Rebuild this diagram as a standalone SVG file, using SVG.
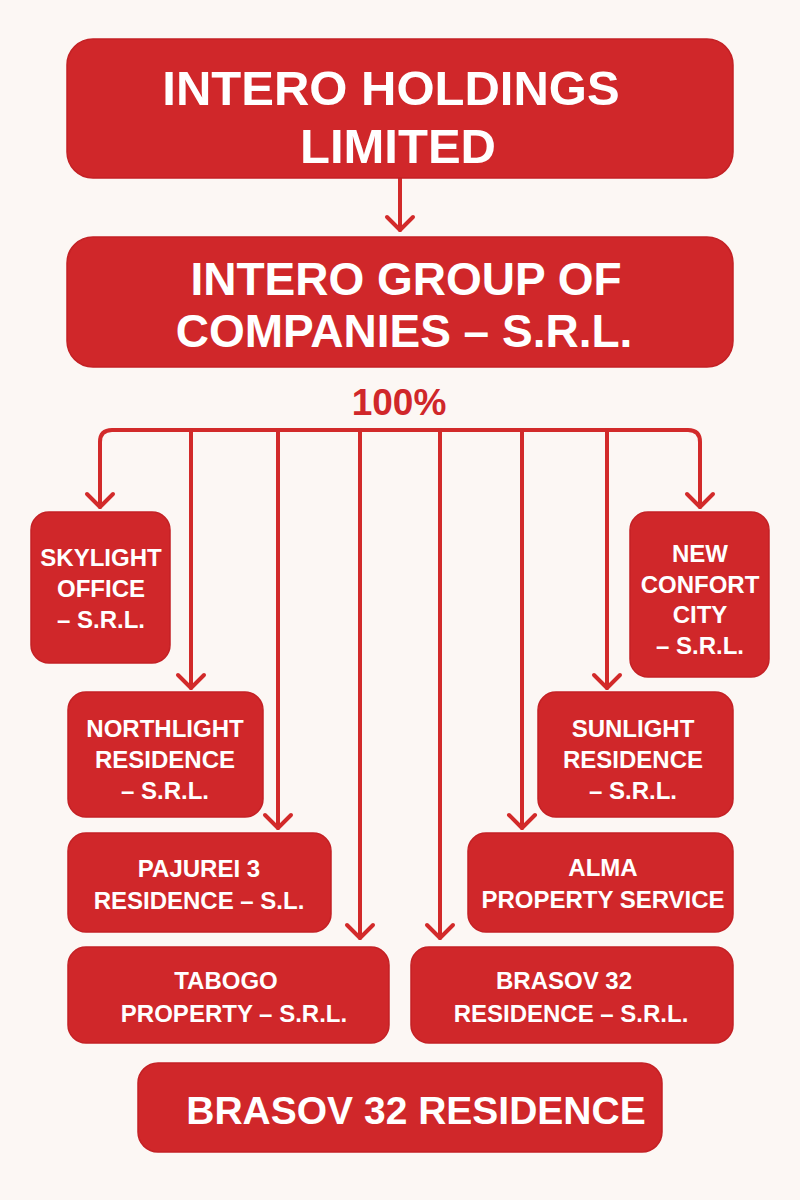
<svg xmlns="http://www.w3.org/2000/svg" width="800" height="1200" viewBox="0 0 800 1200">
  <defs>
    <style>
      .box { fill: #D0272A; stroke: #C42125; stroke-width: 1.5; }
      .t { font-family: "Liberation Sans", Arial, sans-serif; font-weight: 700; fill: #FFFFFF; text-anchor: middle; }
      .big { font-size: 49px; }
      .mid { font-size: 46px; }
      .sm { font-size: 24px; }
      .bot { font-size: 39px; }
      .pct { font-family: "Liberation Sans", Arial, sans-serif; font-weight: 700; font-size: 37px; fill: #D0272A; text-anchor: middle; }
      .ln { fill: none; stroke: #D22A2A; stroke-width: 4; stroke-linecap: round; stroke-linejoin: round; }
    </style>
    <marker id="ah" markerUnits="userSpaceOnUse" viewBox="-16 -16 20 32" refX="0" refY="0" markerWidth="20" markerHeight="32" orient="auto">
      <path d="M-13,-13 L0,0 L-13,13" fill="none" stroke="#D22A2A" stroke-width="4" stroke-linecap="round" stroke-linejoin="round"/>
    </marker>
  </defs>
  <rect width="800" height="1200" fill="#FCF7F4"/>

  <g id="connectors">
    <line class="ln" x1="400" y1="178" x2="400" y2="230" marker-end="url(#ah)"/>
    <path class="ln" d="M400,430 L112,430 Q100,430 100,442 L100,507" marker-end="url(#ah)"/>
    <path class="ln" d="M400,430 L688,430 Q700,430 700,442 L700,507" marker-end="url(#ah)"/>
    <line class="ln" x1="191" y1="430" x2="191" y2="688" marker-end="url(#ah)"/>
    <line class="ln" x1="278" y1="430" x2="278" y2="828" marker-end="url(#ah)"/>
    <line class="ln" x1="360" y1="430" x2="360" y2="938" marker-end="url(#ah)"/>
    <line class="ln" x1="440" y1="430" x2="440" y2="938" marker-end="url(#ah)"/>
    <line class="ln" x1="522" y1="430" x2="522" y2="828" marker-end="url(#ah)"/>
    <line class="ln" x1="607" y1="430" x2="607" y2="688" marker-end="url(#ah)"/>
  </g>

  <g id="intero-holdings">
    <rect class="box" x="67" y="39" width="666" height="139" rx="26"/>
    <text class="t big" x="391" y="105">INTERO HOLDINGS</text>
    <text class="t big" x="398" y="163">LIMITED</text>
  </g>

  <g id="intero-group">
    <rect class="box" x="67" y="237" width="666" height="130" rx="26"/>
    <text class="t mid" x="406" y="295">INTERO GROUP OF</text>
    <text class="t mid" x="404" y="347">COMPANIES – S.R.L.</text>
  </g>

  <g id="pct-label">
    <text class="pct" x="399" y="415">100%</text>
  </g>

  <g id="skylight">
    <rect class="box" x="31" y="512" width="139" height="151" rx="18"/>
    <text class="t sm" x="101" y="566">SKYLIGHT</text>
    <text class="t sm" x="101" y="597">OFFICE</text>
    <text class="t sm" x="101" y="628">– S.R.L.</text>
  </g>

  <g id="new-confort">
    <rect class="box" x="630" y="512" width="139" height="165" rx="18"/>
    <text class="t sm" x="700" y="562">NEW</text>
    <text class="t sm" x="700" y="593">CONFORT</text>
    <text class="t sm" x="700" y="623">CITY</text>
    <text class="t sm" x="700" y="654">– S.R.L.</text>
  </g>

  <g id="northlight">
    <rect class="box" x="68" y="692" width="195" height="125" rx="18"/>
    <text class="t sm" x="165" y="737">NORTHLIGHT</text>
    <text class="t sm" x="165" y="768">RESIDENCE</text>
    <text class="t sm" x="165" y="799">– S.R.L.</text>
  </g>

  <g id="sunlight">
    <rect class="box" x="538" y="692" width="195" height="125" rx="18"/>
    <text class="t sm" x="633" y="737">SUNLIGHT</text>
    <text class="t sm" x="633" y="768">RESIDENCE</text>
    <text class="t sm" x="633" y="799">– S.R.L.</text>
  </g>

  <g id="pajurei">
    <rect class="box" x="68" y="833" width="263" height="99" rx="18"/>
    <text class="t sm" x="199" y="877">PAJUREI 3</text>
    <text class="t sm" x="199" y="909">RESIDENCE – S.L.</text>
  </g>

  <g id="alma">
    <rect class="box" x="468" y="833" width="265" height="99" rx="18"/>
    <text class="t sm" x="603" y="876">ALMA</text>
    <text class="t sm" x="603" y="908">PROPERTY SERVICE</text>
  </g>

  <g id="tabogo">
    <rect class="box" x="68" y="947" width="321" height="96" rx="18"/>
    <text class="t sm" x="226" y="989">TABOGO</text>
    <text class="t sm" x="234" y="1022">PROPERTY – S.R.L.</text>
  </g>

  <g id="brasov32-srl">
    <rect class="box" x="411" y="947" width="322" height="96" rx="18"/>
    <text class="t sm" x="564" y="989">BRASOV 32</text>
    <text class="t sm" x="571" y="1022">RESIDENCE – S.R.L.</text>
  </g>

  <g id="brasov32-residence">
    <rect class="box" x="138" y="1063" width="524" height="89" rx="20"/>
    <text class="t bot" x="416" y="1124">BRASOV 32 RESIDENCE</text>
  </g>
</svg>
